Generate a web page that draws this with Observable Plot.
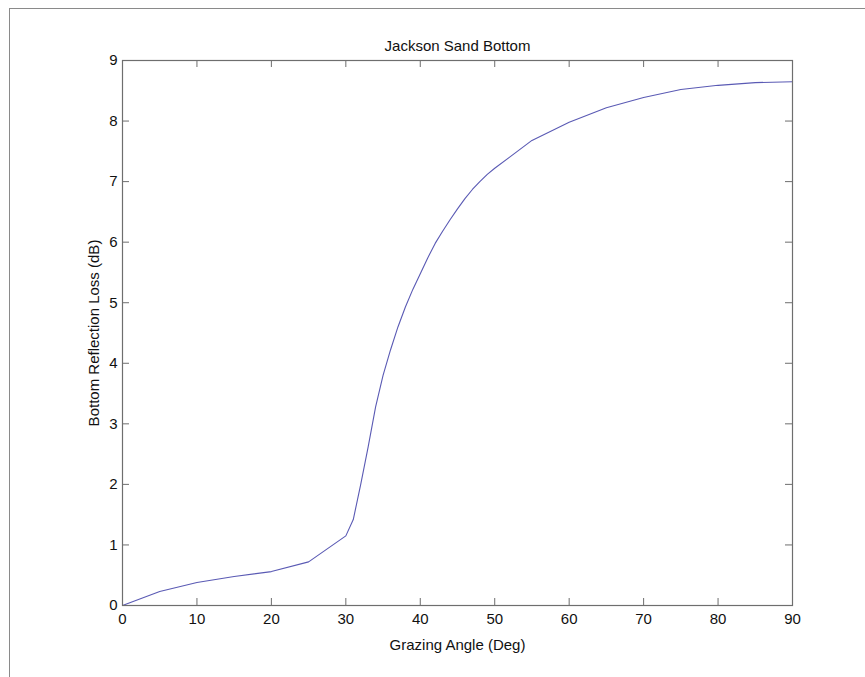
<!DOCTYPE html>
<html>
<head>
<meta charset="utf-8">
<script src="https://cdn.jsdelivr.net/npm/d3@7"></script>
<script src="https://cdn.jsdelivr.net/npm/@observablehq/plot@0.6"></script>
<style>
  html, body { margin: 0; padding: 0; background: #fff; }
  #wrap { position: relative; width: 865px; height: 677px; overflow: hidden; }
  #border { position: absolute; left: 9px; top: 8px; width: 870px; height: 680px;
            border-top: 1px solid #8a8a8a; border-left: 1px solid #8a8a8a; pointer-events: none; }
</style>
</head>
<body>
<div id="wrap"><div id="border"></div></div>
<script>
const titleText = "Jackson Sand Bottom";
const xLabel = "Grazing Angle (Deg)";
const yLabel = "Bottom Reflection Loss (dB)";

const angles = [0, 5, 10, 15, 20, 25, 30, 31, 32, 33, 34, 35, 36, 37, 38, 39, 40, 41, 42, 43, 44, 45, 46, 47, 48, 49, 50, 55, 60, 65, 70, 75, 80, 85, 90];
const loss   = [0, 0.23, 0.38, 0.48, 0.56, 0.72, 1.15, 1.42, 2.0, 2.62, 3.28, 3.8, 4.22, 4.6, 4.93, 5.22, 5.48, 5.74, 5.98, 6.18, 6.37, 6.55, 6.72, 6.87, 7.0, 7.12, 7.22, 7.68, 7.98, 8.22, 8.39, 8.52, 8.59, 8.635, 8.65];

const xTicks = [0, 10, 20, 30, 40, 50, 60, 70, 80, 90];
const yTicks = [0, 1, 2, 3, 4, 5, 6, 7, 8, 9];

const data = angles.map((a, i) => ({angle: a, loss: loss[i]}));

const W = 865, H = 677;
const mL = 122, mR = 73, mT = 60, mB = 72;
const innerW = W - mL - mR, innerH = H - mT - mB;
const axisColor = "#6e6e6e";
const tickLen = 7;
const font = "'Liberation Sans', Arial, Helvetica, sans-serif";

const chart = Plot.plot({
  width: W,
  height: H,
  marginLeft: mL,
  marginRight: mR,
  marginTop: mT,
  marginBottom: mB,
  style: {fontFamily: font, fontSize: "15px", color: "#111", background: "transparent"},
  x: {domain: [0, 90], label: xLabel},
  y: {domain: [0, 9], label: yLabel},
  marks: [
    Plot.line(data, {x: "angle", y: "loss", stroke: "#5a5ab4", strokeWidth: 1.1}),
    Plot.tickX(xTicks, {x: d => d, insetTop: innerH - tickLen, stroke: axisColor}),
    Plot.tickX(xTicks, {x: d => d, insetBottom: innerH - tickLen, stroke: axisColor}),
    Plot.tickY(yTicks, {y: d => d, insetRight: innerW - tickLen, stroke: axisColor}),
    Plot.tickY(yTicks, {y: d => d, insetLeft: innerW - tickLen, stroke: axisColor}),
    Plot.frame({stroke: axisColor, strokeWidth: 1.2}),
    Plot.axisX({ticks: xTicks, tickSize: 0, tickPadding: 8, fontSize: 15, label: xLabel, labelAnchor: "center", labelOffset: 44, labelArrow: "none"}),
    Plot.axisY({ticks: yTicks, tickSize: 0, tickPadding: 5, fontSize: 15, label: yLabel, labelAnchor: "center", labelOffset: 34, labelArrow: "none"}),
    Plot.text([titleText], {text: d => d, frameAnchor: "top", lineAnchor: "bottom", dy: -10, fontSize: 15})
  ]
});
document.getElementById("wrap").prepend(chart);
</script>
</body>
</html>
